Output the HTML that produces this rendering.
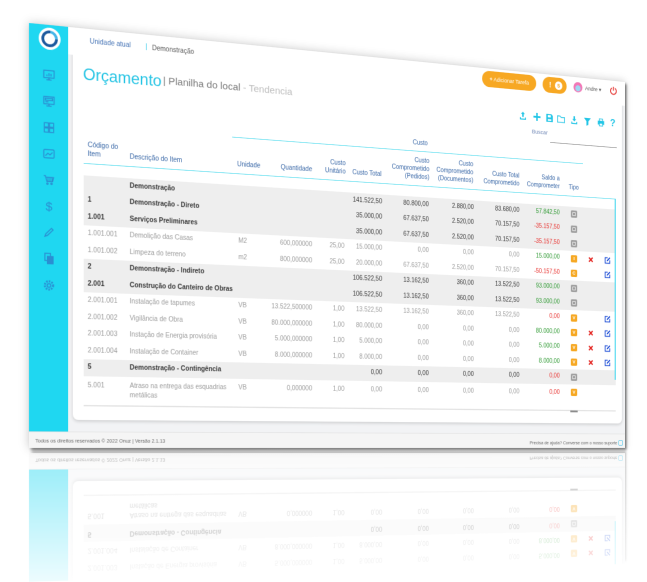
<!DOCTYPE html>
<html><head><meta charset="utf-8">
<style>
*{box-sizing:border-box;margin:0;padding:0}
html,body{width:647px;height:582px;overflow:hidden;background:#fff}
body{font-family:"Liberation Sans",Arial,sans-serif}
#root{position:relative;width:647px;height:582px;overflow:hidden;overflow:clip;contain:paint;background:#fff}
.page{position:absolute;left:0;top:0;width:1000px;height:614px;background:#fff;overflow:hidden;transform-origin:0 0;transform:matrix3d(0.69675,0.0722,0,0.0001612,0,0.69218,0,0,0,0,1,0,29,23,0,1);box-shadow:3px 3px 4px rgba(0,0,0,.5),0 0 14px rgba(0,0,0,.22)}
.rpage{position:absolute;left:0;top:0;width:1000px;height:186px;background:#fff;overflow:hidden;transform-origin:0 0;transform:matrix(1,0,0,-1,0,901) matrix3d(0.69675,0.0722,0,0.0001612,0,0.69218,0,0,0,0,1,0,29,23,0,1) translate(0,428px);box-shadow:3px 4px 4px -1px rgba(0,0,0,.5)}
.a{position:absolute;white-space:nowrap}
.ft{font-size:7.5px;line-height:10px;color:#666}
.pill{background:#f7a823;border-radius:13px;color:#fff;font-size:9px;line-height:26px;text-align:center}
.h{position:absolute;font-size:10px;line-height:13px;color:#3766a6;white-space:nowrap}
.hr{text-align:right}
.r{position:absolute;left:80px;width:902px;height:24.5px;line-height:24.5px;font-size:10px;color:#9b9b9b}
.r span{position:absolute;top:0;white-space:nowrap}
.g{background:#eeeeee;color:#383838}
.g .c0,.g .c1{font-weight:bold}
.c0{left:6px}.c1{left:69px}.c2{left:238px}
.c3{right:544px}.c4{right:490px}.c5{right:426px}.c6{right:345px}.c7{right:265px}.c8{right:182px}.c9{right:107px}
.r .gr{color:#2f9a33}.r .rd{color:#e8322f}
.r .ti{left:816px;top:6.25px;width:12px;height:12px;border-radius:2px;line-height:12px;text-align:center;color:#fff;font-size:8px;font-weight:bold}
.r .gy{background:#a0a0a0}
.r .gy::after{content:"";position:absolute;left:3px;top:3px;width:6px;height:6px;border:1.2px solid #f2f2f2;box-sizing:border-box}
.r .or{background:#f6a823}
.r .xx{left:849px;top:7.25px;width:10px;height:10px;line-height:0}
.r .ed{left:880px;top:6.25px;width:12px;height:12px;line-height:0}
.tall{height:42.25px;line-height:14px}
.tall span{top:7.25px !important}
.sbi{position:absolute;left:20px}
.sbi *{fill:none;stroke:#2a8fd2;stroke-width:2}
.tb{position:absolute;top:63.5px}
.fade{position:absolute;left:0;top:449px;width:647px;height:133px;background:linear-gradient(rgba(255,255,255,.5),rgba(255,255,255,.92))}
</style></head><body>
<div id="root">

<div class="rpage">
<div class="a" style="left:57px;top:0;width:943px;height:162px;background:#f2f3f5"></div>
<div class="a" style="left:64px;top:0;width:930px;height:145px;background:#fff;border-radius:0 0 8px 8px;box-shadow:0 2px 5px rgba(0,0,0,.16)"></div>
<div class="a" style="left:0;top:0;width:57px;height:162px;background:#1fd7f1"></div>
<div class="a" style="left:0;top:162px;width:1000px;height:24px;background:#f5f5f5;border-top:1px solid #e2e2e2"></div>
<div class="a ft" style="left:9px;top:171px">Todos os direitos reservados © 2022 Onuz | Versão 2.1.13</div>
<div class="a ft" style="right:15px;top:173px">Precisa de ajuda? Converse com o nosso suporte</div>
<div class="a" style="left:987px;top:173px;width:9px;height:9px;border:1.5px solid #5bc8e8;border-radius:2px"></div>
<div class="r" style="top:7.25px"><span class="c0">2.001.003</span><span class="c1">Instação de Energia provisória</span><span class="c2">VB</span><span class="c3">5.000,000000</span><span class="c4">1,00</span><span class="c5">5.000,00</span><span class="c6">0,00</span><span class="c7">0,00</span><span class="c8">0,00</span><span class="c9 gr">5.000,00</span><span class="ti or">V</span><span class="xx"><svg width="10" height="10"><path d="M1.5 1.5l7 7m0-7l-7 7" stroke="#e3211c" stroke-width="2.4"/></svg></span><span class="ed"><svg width="12" height="12" viewBox="0 0 12 12"><path d="M6.5 1.5H1.5v9h9v-5" fill="none" stroke="#1f4fd6" stroke-width="1.6"/><path d="M4.5 7.5l.4-1.9L10 .5l1.5 1.5-5.1 5.1z" fill="#1f4fd6"/></svg></span></div>
<div class="r" style="top:31.75px"><span class="c0">2.001.004</span><span class="c1">Instalação de Container</span><span class="c2">VB</span><span class="c3">8.000,000000</span><span class="c4">1,00</span><span class="c5">8.000,00</span><span class="c6">0,00</span><span class="c7">0,00</span><span class="c8">0,00</span><span class="c9 gr">8.000,00</span><span class="ti or">V</span><span class="xx"><svg width="10" height="10"><path d="M1.5 1.5l7 7m0-7l-7 7" stroke="#e3211c" stroke-width="2.4"/></svg></span><span class="ed"><svg width="12" height="12" viewBox="0 0 12 12"><path d="M6.5 1.5H1.5v9h9v-5" fill="none" stroke="#1f4fd6" stroke-width="1.6"/><path d="M4.5 7.5l.4-1.9L10 .5l1.5 1.5-5.1 5.1z" fill="#1f4fd6"/></svg></span></div>
<div class="r g" style="top:56.25px"><span class="c0">5</span><span class="c1">Demonstração - Contingência</span><span class="c5">0,00</span><span class="c6">0,00</span><span class="c7">0,00</span><span class="c8">0,00</span><span class="c9 rd">0,00</span><span class="ti gy"></span></div>
<div class="r tall" style="top:80.75px"><span class="c0">5.001</span><span class="c1">Atraso na entrega das esquadrias<br>metálicas</span><span class="c2">VB</span><span class="c3">0,000000</span><span class="c4">1,00</span><span class="c5">0,00</span><span class="c6">0,00</span><span class="c7">0,00</span><span class="c8">0,00</span><span class="c9 rd">0,00</span><span class="ti or">V</span></div>
<div class="a" style="left:980px;top:0;width:2px;height:72px;background:#3fd6ee"></div>
<div class="a" style="left:80px;top:123px;width:902px;height:1.5px;background:#e3e3e3"></div>
<div class="a" style="left:895px;top:124px;width:14px;height:3px;background:#8c8c8c"></div>
</div>

<div class="fade"></div>

<div class="page">
<div class="a" style="left:57px;top:40px;width:943px;height:550px;background:#f2f3f5"></div>
<div class="a" style="left:64px;top:36px;width:930px;height:537px;background:#fff;border-radius:0 0 8px 8px;box-shadow:0 2px 5px rgba(0,0,0,.16)"></div>
<div class="a" style="left:57px;top:0;width:943px;height:40px;background:#fff"></div>
<div class="a" style="left:0;top:0;width:57px;height:590px;background:#1fd7f1"></div>
<svg class="a" style="left:13px;top:3px" width="34" height="34" viewBox="0 0 34 34"><circle cx="17" cy="17" r="16" fill="#fff"/><circle cx="17" cy="17" r="10" fill="none" stroke="#1d5a9e" stroke-width="4" stroke-dasharray="48 15"/><circle cx="17" cy="17" r="10" fill="none" stroke="#45b6e8" stroke-width="4" stroke-dasharray="0 48 15 0"/></svg>
<svg class="sbi" style="top:64px" width="18" height="18" viewBox="0 0 24 24"><rect x="2" y="3" width="20" height="14"/><path d="M12 17v4M7 21h10M8 14v-3M12 14V8M16 14v-5"/></svg>
<svg class="sbi" style="top:102px" width="18" height="18" viewBox="0 0 24 24"><rect x="2" y="3" width="20" height="14"/><rect x="5" y="6" width="14" height="4"/><path d="M12 17v4M7 21h10M5 13h6"/></svg>
<svg class="sbi" style="top:140px" width="18" height="18" viewBox="0 0 24 24"><rect x="3" y="3" width="8" height="8"/><rect x="13" y="3" width="8" height="8"/><rect x="3" y="13" width="8" height="8"/><rect x="13" y="13" width="8" height="8"/></svg>
<svg class="sbi" style="top:178px" width="18" height="18" viewBox="0 0 24 24"><rect x="2" y="4" width="20" height="16" rx="2"/><path d="M5 16l5-5 4 3 5-5"/></svg>
<svg class="sbi" style="top:216px" width="18" height="18" viewBox="0 0 24 24"><path d="M2 4h3l3 11h11l2-8H7M10 8v7M14 8v7M18 8v7"/><circle cx="9" cy="19" r="1.5"/><circle cx="17" cy="19" r="1.5"/></svg>
<svg class="sbi" style="top:254px" width="18" height="18" viewBox="0 0 24 24"><text x="12" y="21" font-size="24" text-anchor="middle" font-family="Liberation Sans" style="fill:#2a8fd2;stroke:none">$</text></svg>
<svg class="sbi" style="top:292px" width="18" height="18" viewBox="0 0 24 24"><path d="M4 20l2-5L17 4l3 3L9 18z"/></svg>
<svg class="sbi" style="top:330px" width="18" height="18" viewBox="0 0 24 24"><rect x="4" y="2" width="11" height="14"/><rect x="9" y="8" width="11" height="14" style="fill:#2a8fd2"/></svg>
<svg class="sbi" style="top:369px" width="18" height="18" viewBox="0 0 24 24"><circle cx="12" cy="12" r="8" stroke-dasharray="3 2.2" style="stroke-width:4"/><circle cx="12" cy="12" r="3.5"/></svg>
<div class="a" style="left:0;top:590px;width:1000px;height:24px;background:#f5f5f5;border-top:1px solid #e2e2e2"></div>
<div class="a ft" style="left:9px;top:599px">Todos os direitos reservados © 2022 Onuz | Versão 2.1.13</div>
<div class="a ft" style="right:15px;top:601px">Precisa de ajuda? Converse com o nosso suporte</div>
<div class="a" style="left:987px;top:601px;width:9px;height:9px;border:1.5px solid #5bc8e8;border-radius:2px"></div>
<div class="a" style="left:89px;top:12px;font-size:10px;line-height:14px;color:#4573b5">Unidade atual</div>
<div class="a" style="left:173px;top:12px;font-size:10px;line-height:14px;color:#22c5e6">|</div>
<div class="a" style="left:183px;top:13px;font-size:10px;line-height:14px;color:#555">Demonstração</div>
<div class="a pill" style="left:732px;top:4px;width:99px;height:26px"><b>+</b> Adicionar Tarefa</div>
<div class="a pill" style="left:843px;top:4px;width:45px;height:26px"></div>
<div class="a" style="left:855px;top:4px;font-size:13px;line-height:26px;color:#fff;font-weight:bold">!</div>
<div class="a" style="left:866px;top:10px;width:14px;height:14px;border-radius:7px;background:#fff;color:#f7a823;font-size:9px;line-height:14px;text-align:center;font-weight:bold">5</div>
<div class="a" style="left:901px;top:8px;width:17px;height:17px;border-radius:9px;background:radial-gradient(circle at 50% 60%,#9fd8f2 0 35%,#f277b6 40%)"></div>
<div class="a" style="left:923px;top:11px;font-size:9px;line-height:12px;color:#555">Andre ▾</div>
<svg class="a" style="left:970px;top:9px" width="15" height="15" viewBox="0 0 16 16"><path d="M4.8 3.5A6 6 0 1 0 11.2 3.5" fill="none" stroke="#e53935" stroke-width="2"/><path d="M8 1v7" stroke="#e53935" stroke-width="2"/></svg>
<div class="a" style="left:79px;top:53px;font-size:24px;line-height:30px;color:#25c4e4">Orçamento</div>
<div class="a" style="left:200px;top:54.5px;font-size:15.5px;line-height:24px;color:#7b7b7b">| Planilha do local <span style="color:#bdbdbd">- Tendencia</span></div>
<svg class="tb" style="left:798.5px" width="15" height="15" viewBox="0 0 16 16" fill="#22c5e6"><path d="M8 1l4 4H9.5v5h-3V5H4zM2 11h2v2h8v-2h2v4H2z"/></svg>
<svg class="tb" style="left:824.5px" width="15" height="15" viewBox="0 0 16 16" fill="#22c5e6"><path d="M6.5 1h3v5.5H15v3H9.5V15h-3V9.5H1v-3h5.5z"/></svg>
<svg class="tb" style="left:847.5px" width="15" height="15" viewBox="0 0 16 16" fill="#22c5e6"><path fill-rule="evenodd" d="M2 1h10l3 3v11H2zM5 3v4h6V3zM5 10v3h7v-3z"/></svg>
<svg class="tb" style="left:869.5px" width="15" height="15" viewBox="0 0 16 16"><path d="M1 3h5l2 2h7v9H1z" fill="none" stroke="#22c5e6" stroke-width="1.5"/></svg>
<svg class="tb" style="left:894.5px" width="15" height="15" viewBox="0 0 16 16" fill="#22c5e6"><path d="M6.5 1h3v5H12L8 10 4 6h2.5zM2 11h2v2h8v-2h2v4H2z"/></svg>
<svg class="tb" style="left:919.5px" width="15" height="15" viewBox="0 0 16 16" fill="#22c5e6"><path d="M1 2h14L10 8v6l-4 2V8z"/></svg>
<svg class="tb" style="left:945.5px" width="15" height="15" viewBox="0 0 16 16" fill="#22c5e6"><path fill-rule="evenodd" d="M4 1h8v4h2.5v7H12v3H4v-3H1.5V5H4zM5.5 2.5v2.5h5V2.5zM5.5 10v3.5h5V10z"/></svg>
<div class="a" style="left:971px;top:61px;font-size:17px;line-height:20px;font-weight:bold;color:#22c5e6">?</div>
<div class="a" style="left:823px;top:91px;font-size:9.5px;line-height:12px;color:#6e86b5">Buscar</div>
<div class="a" style="left:857px;top:111px;width:127px;height:1px;background:#8a8a8a"></div>
<div class="h" style="left:597px;width:50px;text-align:center;top:123px">Custo</div>
<div class="a" style="left:308px;top:142px;width:611px;height:1.3px;background:#58dcee"></div>
<div class="h" style="left:86px;top:164px">Código do<br>Item</div>
<div class="h" style="left:149px;top:177px">Descrição do Item</div>
<div class="h" style="left:316px;top:177px">Unidade</div>
<div class="h hr" style="right:562px;top:177px">Quantidade</div>
<div class="h hr" style="right:506px;top:164px">Custo<br>Unitário</div>
<div class="h hr" style="right:445px;top:177px">Custo Total</div>
<div class="h hr" style="right:362px;top:151px">Custo<br>Comprometido<br>(Pedidos)</div>
<div class="h hr" style="right:284px;top:151px">Custo<br>Comprometido<br>(Documentos)</div>
<div class="h hr" style="right:200px;top:164px">Custo Total<br>Comprometido</div>
<div class="h hr" style="right:125px;top:164px">Saldo a<br>Comprometer</div>
<div class="h" style="left:892px;top:177px">Tipo</div>
<div class="a" style="left:80px;top:196.5px;width:902px;height:1.5px;background:#58dcee"></div>
<div class="r g" style="top:214.75px"><span class="c1">Demonstração</span><span class="c5">141.522,50</span><span class="c6">80.800,00</span><span class="c7">2.880,00</span><span class="c8">83.680,00</span><span class="c9 gr">57.842,50</span><span class="ti gy"></span></div>
<div class="r g" style="top:239.25px"><span class="c0">1</span><span class="c1">Demonstração - Direto</span><span class="c5">35.000,00</span><span class="c6">67.637,50</span><span class="c7">2.520,00</span><span class="c8">70.157,50</span><span class="c9 rd">-35.157,50</span><span class="ti gy"></span></div>
<div class="r g" style="top:263.75px"><span class="c0">1.001</span><span class="c1">Serviços Preliminares</span><span class="c5">35.000,00</span><span class="c6">67.637,50</span><span class="c7">2.520,00</span><span class="c8">70.157,50</span><span class="c9 rd">-35.157,50</span><span class="ti gy"></span></div>
<div class="r" style="top:288.25px"><span class="c0">1.001.001</span><span class="c1">Demolição das Casas</span><span class="c2">M2</span><span class="c3">600,000000</span><span class="c4">25,00</span><span class="c5">15.000,00</span><span class="c6">0,00</span><span class="c7">0,00</span><span class="c8">0,00</span><span class="c9 gr">15.000,00</span><span class="ti or">I</span><span class="xx"><svg width="10" height="10"><path d="M1.5 1.5l7 7m0-7l-7 7" stroke="#e3211c" stroke-width="2.4"/></svg></span><span class="ed"><svg width="12" height="12" viewBox="0 0 12 12"><path d="M6.5 1.5H1.5v9h9v-5" fill="none" stroke="#1f4fd6" stroke-width="1.6"/><path d="M4.5 7.5l.4-1.9L10 .5l1.5 1.5-5.1 5.1z" fill="#1f4fd6"/></svg></span></div>
<div class="r" style="top:312.75px"><span class="c0">1.001.002</span><span class="c1">Limpeza do terreno</span><span class="c2">m2</span><span class="c3">800,000000</span><span class="c4">25,00</span><span class="c5">20.000,00</span><span class="c6">67.637,50</span><span class="c7">2.520,00</span><span class="c8">70.157,50</span><span class="c9 rd">-50.157,50</span><span class="ti or">C</span><span class="ed"><svg width="12" height="12" viewBox="0 0 12 12"><path d="M6.5 1.5H1.5v9h9v-5" fill="none" stroke="#1f4fd6" stroke-width="1.6"/><path d="M4.5 7.5l.4-1.9L10 .5l1.5 1.5-5.1 5.1z" fill="#1f4fd6"/></svg></span></div>
<div class="r g" style="top:337.25px"><span class="c0">2</span><span class="c1">Demonstração - Indireto</span><span class="c5">106.522,50</span><span class="c6">13.162,50</span><span class="c7">360,00</span><span class="c8">13.522,50</span><span class="c9 gr">93.000,00</span><span class="ti gy"></span></div>
<div class="r g" style="top:361.75px"><span class="c0">2.001</span><span class="c1">Construção do Canteiro de Obras</span><span class="c5">106.522,50</span><span class="c6">13.162,50</span><span class="c7">360,00</span><span class="c8">13.522,50</span><span class="c9 gr">93.000,00</span><span class="ti gy"></span></div>
<div class="r" style="top:386.25px"><span class="c0">2.001.001</span><span class="c1">Instalação de tapumes</span><span class="c2">VB</span><span class="c3">13.522,500000</span><span class="c4">1,00</span><span class="c5">13.522,50</span><span class="c6">13.162,50</span><span class="c7">360,00</span><span class="c8">13.522,50</span><span class="c9 rd">0,00</span><span class="ti or">V</span><span class="ed"><svg width="12" height="12" viewBox="0 0 12 12"><path d="M6.5 1.5H1.5v9h9v-5" fill="none" stroke="#1f4fd6" stroke-width="1.6"/><path d="M4.5 7.5l.4-1.9L10 .5l1.5 1.5-5.1 5.1z" fill="#1f4fd6"/></svg></span></div>
<div class="r" style="top:410.75px"><span class="c0">2.001.002</span><span class="c1">Vigilância de Obra</span><span class="c2">VB</span><span class="c3">80.000,000000</span><span class="c4">1,00</span><span class="c5">80.000,00</span><span class="c6">0,00</span><span class="c7">0,00</span><span class="c8">0,00</span><span class="c9 gr">80.000,00</span><span class="ti or">V</span><span class="xx"><svg width="10" height="10"><path d="M1.5 1.5l7 7m0-7l-7 7" stroke="#e3211c" stroke-width="2.4"/></svg></span><span class="ed"><svg width="12" height="12" viewBox="0 0 12 12"><path d="M6.5 1.5H1.5v9h9v-5" fill="none" stroke="#1f4fd6" stroke-width="1.6"/><path d="M4.5 7.5l.4-1.9L10 .5l1.5 1.5-5.1 5.1z" fill="#1f4fd6"/></svg></span></div>
<div class="r" style="top:435.25px"><span class="c0">2.001.003</span><span class="c1">Instação de Energia provisória</span><span class="c2">VB</span><span class="c3">5.000,000000</span><span class="c4">1,00</span><span class="c5">5.000,00</span><span class="c6">0,00</span><span class="c7">0,00</span><span class="c8">0,00</span><span class="c9 gr">5.000,00</span><span class="ti or">V</span><span class="xx"><svg width="10" height="10"><path d="M1.5 1.5l7 7m0-7l-7 7" stroke="#e3211c" stroke-width="2.4"/></svg></span><span class="ed"><svg width="12" height="12" viewBox="0 0 12 12"><path d="M6.5 1.5H1.5v9h9v-5" fill="none" stroke="#1f4fd6" stroke-width="1.6"/><path d="M4.5 7.5l.4-1.9L10 .5l1.5 1.5-5.1 5.1z" fill="#1f4fd6"/></svg></span></div>
<div class="r" style="top:459.75px"><span class="c0">2.001.004</span><span class="c1">Instalação de Container</span><span class="c2">VB</span><span class="c3">8.000,000000</span><span class="c4">1,00</span><span class="c5">8.000,00</span><span class="c6">0,00</span><span class="c7">0,00</span><span class="c8">0,00</span><span class="c9 gr">8.000,00</span><span class="ti or">V</span><span class="xx"><svg width="10" height="10"><path d="M1.5 1.5l7 7m0-7l-7 7" stroke="#e3211c" stroke-width="2.4"/></svg></span><span class="ed"><svg width="12" height="12" viewBox="0 0 12 12"><path d="M6.5 1.5H1.5v9h9v-5" fill="none" stroke="#1f4fd6" stroke-width="1.6"/><path d="M4.5 7.5l.4-1.9L10 .5l1.5 1.5-5.1 5.1z" fill="#1f4fd6"/></svg></span></div>
<div class="r g" style="top:484.25px"><span class="c0">5</span><span class="c1">Demonstração - Contingência</span><span class="c5">0,00</span><span class="c6">0,00</span><span class="c7">0,00</span><span class="c8">0,00</span><span class="c9 rd">0,00</span><span class="ti gy"></span></div>
<div class="r tall" style="top:508.75px"><span class="c0">5.001</span><span class="c1">Atraso na entrega das esquadrias<br>metálicas</span><span class="c2">VB</span><span class="c3">0,000000</span><span class="c4">1,00</span><span class="c5">0,00</span><span class="c6">0,00</span><span class="c7">0,00</span><span class="c8">0,00</span><span class="c9 rd">0,00</span><span class="ti or">V</span></div>
<div class="a" style="left:980px;top:197px;width:2px;height:303px;background:#3fd6ee"></div>
<div class="a" style="left:80px;top:551px;width:902px;height:1.5px;background:#e3e3e3"></div>
<div class="a" style="left:895px;top:552px;width:14px;height:3px;background:#8c8c8c"></div>
</div>

</div>
</body></html>
